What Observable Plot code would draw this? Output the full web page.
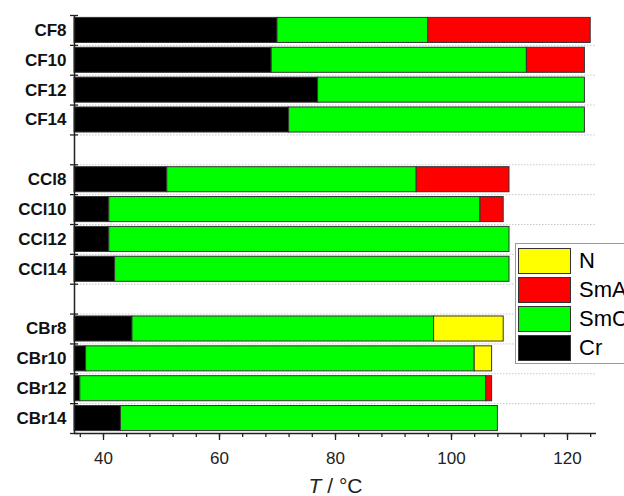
<!DOCTYPE html>
<html>
<head>
<meta charset="utf-8">
<script src="https://cdn.jsdelivr.net/npm/d3@7"></script>
<script src="https://cdn.jsdelivr.net/npm/@observablehq/plot@0.6"></script>
<style>
  html, body { margin: 0; padding: 0; background: #fff; }
  #wrap { position: relative; width: 624px; height: 496px; overflow: hidden; font-family: "Liberation Sans", Arial, sans-serif; }
  #legend { position: absolute; left: 515px; top: 243px; width: 140px; height: 121px; border: 1px solid #999; background: #fff; box-sizing: border-box; }
  .row { position: absolute; left: 2px; height: 25px; }
  .sw { position: absolute; left: 0; top: 0; width: 53px; height: 26px; box-sizing: border-box; border: 1px solid #333; }
  .lb { position: absolute; left: 61px; top: 0; line-height: 26px; font-size: 22px; color: #000; white-space: nowrap; }
</style>
</head>
<body>
<div id="wrap"></div>
<script>
// Rows from top to bottom; null = empty spacer row
const compounds = ["CF8","CF10","CF12","CF14",null,"CCl8","CCl10","CCl12","CCl14",null,"CBr8","CBr10","CBr12","CBr14"];
const startT = 35;
const crTo  = [70, 69, 77, 72, null, 51, 41, 41, 42, null, 45, 37, 36, 43];
const smcTo = [96, 113, 123, 123, null, 94, 105, 110, 110, null, 97, 104, 106, 108];
const smaTo = [124, 123, null, null, null, 110, 109, null, null, null, null, null, 107, null];
const nTo   = [null, null, null, null, null, null, null, null, null, null, 109, 107, null, null];
const phases = ["N", "SmA", "SmC", "Cr"];
const phaseColors = ["#ffff00", "#ff0000", "#00ff00", "#000000"];
const majorTicks = [40, 60, 80, 100, 120];
const minorTicks = d3.range(36, 125, 4);

const segments = [];
compounds.forEach((c, i) => {
  if (!c) return;
  segments.push({row: i, phase: "Cr", t1: startT, t2: crTo[i]});
  segments.push({row: i, phase: "SmC", t1: crTo[i], t2: smcTo[i]});
  let last = smcTo[i];
  if (smaTo[i] != null) { segments.push({row: i, phase: "SmA", t1: last, t2: smaTo[i]}); last = smaTo[i]; }
  if (nTo[i] != null) { segments.push({row: i, phase: "N", t1: last, t2: nTo[i]}); last = nTo[i]; }
});
const nRows = compounds.length;
const boundaries = d3.range(0, nRows + 1);
const labelRows = compounds.map((c, i) => c ? i + 0.5 : null).filter(d => d != null);

const chart = Plot.plot({
  width: 624,
  height: 496,
  marginTop: 15,
  marginBottom: 63,
  marginLeft: 74,
  marginRight: 28,
  style: {fontFamily: '"Liberation Sans", Arial, sans-serif', background: "#fff"},
  x: {domain: [35, 125]},
  y: {domain: [0, nRows], reverse: true},
  color: {domain: phases, range: phaseColors},
  marks: [
    Plot.ruleY(d3.range(1, nRows), {stroke: "#c8c8c8", strokeDasharray: "1.5,1.5"}),
    Plot.rect(segments, {
      x1: "t1", x2: "t2", y1: "row", y2: d => d.row + 1,
      fill: "phase", stroke: "#333", strokeWidth: 1,
      insetTop: 2.4, insetBottom: 2.4
    }),
    Plot.ruleX([35], {stroke: "#222", strokeWidth: 1.5}),
    Plot.ruleY([nRows], {stroke: "#222", strokeWidth: 1.5}),
    Plot.axisY({ticks: boundaries, tickSize: 8, dx: 4, tickFormat: () => "", label: null, stroke: "#222", strokeWidth: 1.3}),
    Plot.axisY({ticks: labelRows, tickSize: 0, tickPadding: 8, tickFormat: d => compounds[Math.floor(d)],
      label: null, fontSize: 17, fontWeight: "bold", fill: "#111"}),
    Plot.axisX({ticks: minorTicks, tickSize: 4, tickFormat: () => "", label: null, stroke: "#222", strokeWidth: 1.3}),
    Plot.axisX({ticks: majorTicks, tickSize: 7, tickPadding: 11, label: null, fontSize: 17, fill: "#222", stroke: "#222", strokeWidth: 1.3}),
    Plot.text(["T / °C"], {frameAnchor: "bottom", dy: 45, lineAnchor: "top", fontSize: 21, fill: "#222"})
  ]
});

// italic T in the axis title
d3.select(chart).selectAll("text").each(function() {
  if (this.textContent === "T / °C") {
    this.textContent = "";
    const t = d3.select(this);
    t.append("tspan").attr("font-style", "italic").text("T");
    t.append("tspan").text(" / °C");
  }
});

const wrap = document.getElementById("wrap");
wrap.appendChild(chart);

const legend = document.createElement("div");
legend.id = "legend";
phases.forEach((p, k) => {
  const row = document.createElement("div");
  row.className = "row";
  row.style.top = (4 + k * 29) + "px";
  const sw = document.createElement("div");
  sw.className = "sw";
  sw.style.background = phaseColors[k];
  const lb = document.createElement("div");
  lb.className = "lb";
  lb.textContent = p;
  row.appendChild(sw);
  row.appendChild(lb);
  legend.appendChild(row);
});
wrap.appendChild(legend);
</script>
</body>
</html>
